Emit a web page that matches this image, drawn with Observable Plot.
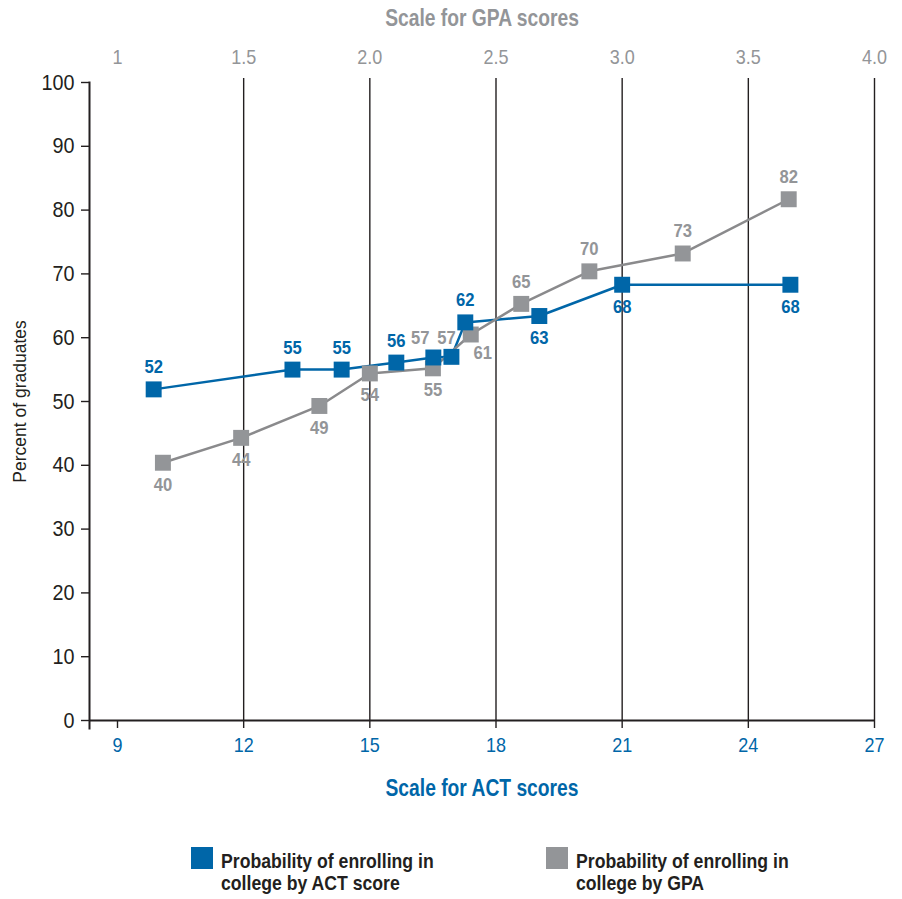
<!DOCTYPE html>
<html>
<head>
<meta charset="utf-8">
<script src="https://cdn.jsdelivr.net/npm/d3@7"></script>
<script src="https://cdn.jsdelivr.net/npm/@observablehq/plot@0.6"></script>
<style>
  body { margin: 0; background: #fff; }
  #wrap { position: relative; width: 902px; height: 899px; font-family: "Liberation Sans", Arial, sans-serif; }
  #chart { position: absolute; left: 0; top: 0; }
  .sw { position: absolute; width: 22px; height: 22px; }
  .lt { position: absolute; font-weight: bold; font-size: 21px; line-height: 22px; color: #231f20;
        white-space: nowrap; transform: scaleX(0.84); transform-origin: 0 0; }
</style>
</head>
<body>
<div id="wrap">
  <div id="chart"></div>
  <div class="sw" style="left:191px;top:847px;background:#0066a8"></div>
  <div class="lt" style="left:221px;top:850px">Probability of enrolling in<br>college by ACT score</div>
  <div class="sw" style="left:546px;top:847px;background:#939598"></div>
  <div class="lt" style="left:576px;top:850px">Probability of enrolling in<br>college by GPA</div>
</div>
<script>
// ---- data ----
const actScores   = [9.86, 13.16, 14.33, 15.63, 16.51, 16.94, 17.27, 19.03, 21.0, 25.0];
const actPercents = [51.9, 55.0, 55.0, 56.1, 56.9, 57.0, 62.4, 63.4, 68.3, 68.3];
const gpaScores   = [1.18, 1.49, 1.80, 2.00, 2.25, 2.40, 2.60, 2.87, 3.24, 3.66];
const gpaPercents = [40.4, 44.3, 49.3, 54.4, 55.2, 60.5, 65.3, 70.4, 73.2, 81.7];
const actTicks = [9, 12, 15, 18, 21, 24, 27];
const gpaTicks = [1, 1.5, 2, 2.5, 3, 3.5, 4];
const gpaTickLabels = ["1", "1.5", "2.0", "2.5", "3.0", "3.5", "4.0"];
const yTicks = [0, 10, 20, 30, 40, 50, 60, 70, 80, 90, 100];

// GPA scale shares the ACT axis: GPA 1 ↔ ACT 9, GPA 4 ↔ ACT 27
const gpaToAct = g => 9 + (g - 1) * 6;

const BLUE = "#0066a8", GRAY = "#939598", GRAYLINE = "#8a8a8c", INK = "#231f20";
const FONT = '"Liberation Sans", Arial, sans-serif';

const actData = actScores.map((x, i) => ({x, y: actPercents[i]}));
const gpaData = gpaScores.map((g, i) => ({x: gpaToAct(g), y: gpaPercents[i]}));

// label placement (style only)
const actPlace = ["above","above","above","above","above57a","above57b","above","below","below","below"];
const gpaPlace = ["below","below","below","below","below","right","above","above","above","above"];
const placeOffsets = {
  above: {dx: 0, dy: -22}, below: {dx: 0, dy: 22}, right: {dx: 12, dy: 19},
  above57a: {dx: -13, dy: -19}, above57b: {dx: -5, dy: -19}
};

function labels(data, places, color) {
  return data.map((d, i) => {
    const p = placeOffsets[places[i]];
    const fill = places[i].startsWith("above57") ? GRAY : color;
    return Plot.text([d], {x: "x", y: "y", text: d => String(Math.round(d.y)),
      dx: p.dx, dy: p.dy, fill, fontSize: 18.5, fontWeight: "bold"});
  });
}

const chart = Plot.plot({
  width: 902, height: 820,
  marginLeft: 89, marginRight: 28, marginTop: 82, marginBottom: 100,
  x: {domain: [9, 27], range: [117, 874]},
  y: {domain: [0, 100]},
  style: {fontFamily: FONT, background: "white", color: INK},
  marks: [
    Plot.ruleX(actTicks.slice(1), {stroke: INK, strokeWidth: 1.4, insetTop: -4}),
    Plot.axisX(actTicks, {anchor: "bottom", tickSize: 8, stroke: INK, strokeWidth: 1.4, text: null, label: null}),
    Plot.ruleY([0], {stroke: INK, strokeWidth: 2}),
    Plot.frame({anchor: "left", stroke: INK, strokeWidth: 2, insetBottom: -8}),
    Plot.axisY(yTicks, {tickSize: 8, tickPadding: 7, fontSize: 22, stroke: INK, strokeWidth: 1.4, fill: INK, label: null}),
    // bottom ACT tick labels
    Plot.text(actTicks, {x: d => d, frameAnchor: "bottom", lineAnchor: "middle", dy: 25, text: d => String(d), fill: BLUE, fontSize: 20}),
    // top GPA tick labels
    Plot.text(gpaTicks, {x: gpaToAct, frameAnchor: "top", lineAnchor: "middle", dy: -25, text: (d, i) => gpaTickLabels[i], fill: GRAY, fontSize: 20}),
    // titles
    Plot.text(["Scale for GPA scores"], {frameAnchor: "top", lineAnchor: "middle", dy: -64, fontSize: 23.5, fontWeight: "bold", fill: GRAY}),
    Plot.text(["Scale for ACT scores"], {frameAnchor: "bottom", lineAnchor: "middle", dy: 68, fontSize: 23.5, fontWeight: "bold", fill: BLUE}),
    Plot.text(["Percent of graduates"], {frameAnchor: "left", textAnchor: "middle", lineAnchor: "middle", dx: -69, rotate: -90, fontSize: 17.5, fill: INK}),
    // series
    Plot.line(actData, {x: "x", y: "y", stroke: BLUE, strokeWidth: 2.5}),
    Plot.line(gpaData, {x: "x", y: "y", stroke: GRAYLINE, strokeWidth: 2.5}),
    Plot.dot(gpaData, {x: "x", y: "y", symbol: "square", r: 9, fill: GRAY}),
    Plot.dot(actData, {x: "x", y: "y", symbol: "square", r: 9, fill: BLUE}),
    ...labels(gpaData, gpaPlace, GRAY),
    ...labels(actData, actPlace, BLUE)
  ]
});
document.getElementById("chart").append(chart);

// emulate the condensed typeface of the original by narrowing glyphs about their anchor
d3.select(chart).selectAll("text").each(function () {
  const cs = getComputedStyle(this);
  const size = parseFloat(cs.fontSize);
  const tr = this.getAttribute("transform") || "";
  let k = 0.9;
  if (/rotate/.test(tr)) k = 1;
  else if (size >= 23) k = 0.82;
  if (k === 1) return;
  if (tr) this.setAttribute("transform", tr + ` scale(${k},1)`);
  else {
    const x = +this.getAttribute("x") || 0, y = +this.getAttribute("y") || 0;
    this.setAttribute("transform", `translate(${x},${y}) scale(${k},1) translate(${-x},${-y})`);
  }
});
</script>
</body>
</html>
